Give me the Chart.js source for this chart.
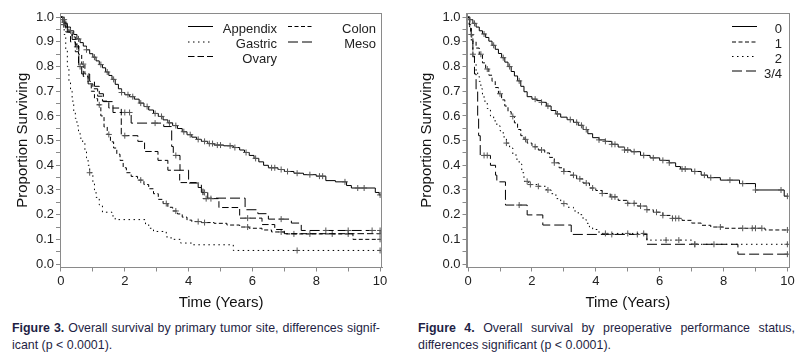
<!DOCTYPE html>
<html><head><meta charset="utf-8">
<script src="https://cdn.jsdelivr.net/npm/chart.js@4.4.1/dist/chart.umd.min.js"></script>
<style>
html,body{margin:0;padding:0;background:#fff;width:805px;height:360px;overflow:hidden;}
#c1{position:absolute;left:0;top:0;}
#c2{position:absolute;left:400px;top:0;}
.cap{position:absolute;font-family:"Liberation Sans",Arial,sans-serif;font-size:12.4px;color:#1f1f45;line-height:17px;white-space:nowrap;}
.just{text-align:justify;text-align-last:justify;}
b{font-weight:bold;}
</style></head>
<body>
<canvas id="c1" width="400" height="318"></canvas>
<canvas id="c2" width="405" height="318"></canvas>
<div class="cap just" style="left:12px;top:320px;width:368px;"><b>Figure 3.</b> Overall survival by primary tumor site, differences signif-</div>
<div class="cap" style="left:12px;top:337px;">icant (p &lt; 0.0001).</div>
<div class="cap just" style="left:418px;top:320px;width:377px;"><b>Figure 4.</b> Overall survival by preoperative performance status,</div>
<div class="cap" style="left:418px;top:337px;">differences significant (p &lt; 0.0001).</div>
<script>
// ---------- Figure 3 data (primary tumor site) ----------
const siteLabels = ['Appendix', 'Gastric', 'Ovary', 'Colon', 'Meso'];
const appendixT = [0.05,0.12,0.2,0.3,0.4,0.5,0.6,0.7,0.8,0.9,1.0,1.1,1.2,1.3,1.4,1.5,1.6,1.7,1.8,1.9,2.0,2.15,2.3,2.45,2.6,2.75,2.9,3.05,3.2,3.35,3.5,3.65,3.8,3.95,4.1,4.25,4.4,4.6,4.8,5.1,5.4,5.6,5.75,5.9,6.05,6.2,6.35,6.5,6.8,7.0,7.3,7.6,8.0,8.3,8.6,8.95,9.1,9.85,9.97];
const appendixS = [0.99,0.975,0.96,0.945,0.93,0.912,0.897,0.883,0.868,0.852,0.838,0.823,0.808,0.795,0.778,0.764,0.748,0.728,0.71,0.695,0.686,0.678,0.668,0.652,0.638,0.624,0.61,0.598,0.584,0.572,0.561,0.549,0.536,0.524,0.514,0.505,0.497,0.488,0.482,0.479,0.472,0.462,0.452,0.44,0.428,0.414,0.4,0.39,0.383,0.375,0.368,0.362,0.356,0.338,0.333,0.318,0.308,0.29,0.28];
const appendixCens = [0.05,0.1,0.3,0.55,0.8,1.05,1.25,1.45,1.65,1.9,2.1,2.25,2.5,2.7,2.95,3.15,3.4,3.6,3.85,4.05,4.3,4.5,4.65,4.75,4.9,5.0,5.3,5.45,5.8,6.1,6.6,6.7,6.9,7.1,7.4,7.8,8.1,8.2,8.9,9.3,9.5,10.0];
const gastricT = [0.05,0.1,0.15,0.2,0.25,0.3,0.35,0.4,0.45,0.5,0.55,0.6,0.68,0.75,0.8,0.85,0.9,1.0,1.05,1.1,1.2,1.3,1.6,1.7,2.65,2.75,2.9,3.3,3.45,3.75,4.1,5.4];
const gastricS = [0.97,0.93,0.87,0.8,0.74,0.7,0.66,0.62,0.59,0.56,0.53,0.51,0.49,0.46,0.43,0.4,0.37,0.33,0.3,0.27,0.24,0.21,0.195,0.18,0.16,0.145,0.132,0.11,0.1,0.085,0.078,0.055];
const gastricCens = [0.08,0.9,7.4,10.0];
const ovaryT = [0.05,0.15,0.3,0.45,0.55,0.7,0.85,1.0,1.15,1.3,1.5,1.89,2.41,2.62,3.04,3.35,3.72,4.3,4.45,4.95,5.6,6.3,6.7,7.0];
const ovaryS = [0.97,0.94,0.9,0.86,0.8,0.76,0.73,0.71,0.68,0.66,0.632,0.52,0.497,0.456,0.42,0.38,0.33,0.31,0.265,0.229,0.186,0.16,0.14,0.123];
const ovaryCens = [0.1,0.6,2.0,4.55,4.7,5.85,10.0];
const colonT = [0.05,0.15,0.25,0.35,0.45,0.55,0.65,0.75,0.85,0.95,1.05,1.15,1.25,1.35,1.45,1.55,1.65,1.75,1.85,1.95,2.05,2.2,2.4,2.6,2.75,2.9,3.05,3.2,3.35,3.5,3.65,3.8,3.95,4.1,4.4,4.8,5.2,5.6,5.9,6.3,6.6,7.0,9.15];
const colonS = [0.98,0.96,0.94,0.92,0.89,0.85,0.81,0.77,0.73,0.7,0.67,0.645,0.6,0.555,0.525,0.495,0.47,0.445,0.42,0.39,0.37,0.355,0.34,0.322,0.305,0.285,0.262,0.245,0.23,0.215,0.203,0.19,0.178,0.172,0.168,0.165,0.158,0.15,0.145,0.138,0.13,0.122,0.1];
const colonCens = [0.1,0.7,1.2,1.5,2.5,3.3,3.6,4.3,4.5,5.85,6.9,7.3,7.8,8.5,9.0,10.0];
const mesoT = [0.1,0.2,0.35,0.5,0.56,0.65,0.9,1.05,1.2,1.33,1.63,2.2,3.22,3.47,3.52,3.73,4.0,4.4,4.6,5.77,6.17,6.5,7.22,7.53];
const mesoS = [0.97,0.94,0.91,0.88,0.8,0.77,0.74,0.72,0.69,0.658,0.614,0.571,0.557,0.476,0.44,0.38,0.328,0.29,0.267,0.22,0.204,0.182,0.166,0.136];
const mesoCens = [0.5,2.0,2.15,2.95,3.6,4.5,6.9,8.3,9.0,9.75,10.0];

// ---------- Figure 4 data (performance status) ----------
const statusLabels = ['0', '1', '2', '3/4'];
const ps0T = [0.05,0.15,0.25,0.35,0.45,0.55,0.65,0.75,0.85,0.95,1.05,1.15,1.25,1.35,1.45,1.55,1.65,1.75,1.85,2.0,2.15,2.3,2.45,2.6,2.75,2.9,3.1,3.3,3.45,3.6,3.75,3.9,4.1,4.3,4.5,4.7,4.9,5.1,5.4,5.7,6.0,6.3,6.5,6.65,7.0,7.3,7.5,7.9,8.5,9.0,9.9];
const ps0S = [0.99,0.975,0.96,0.945,0.932,0.918,0.903,0.886,0.87,0.853,0.836,0.818,0.8,0.78,0.762,0.742,0.72,0.698,0.678,0.668,0.662,0.655,0.64,0.622,0.608,0.595,0.585,0.574,0.562,0.545,0.528,0.512,0.503,0.497,0.485,0.474,0.462,0.455,0.44,0.43,0.42,0.41,0.395,0.385,0.375,0.36,0.35,0.34,0.326,0.3,0.275];
const ps0Cens = [0.05,0.2,0.5,0.8,1.1,1.3,1.6,2.1,2.3,2.5,2.8,3.2,3.4,3.55,3.7,4.1,4.3,4.5,4.6,4.9,5.0,5.2,5.5,5.8,6.1,6.3,6.7,6.8,7.1,7.4,7.6,8.2,8.6,9.0,9.8,10.0];
const ps1T = [0.03,0.08,0.15,0.25,0.35,0.45,0.55,0.65,0.75,0.85,0.95,1.05,1.15,1.25,1.35,1.45,1.55,1.65,1.75,1.85,2.0,2.2,2.4,2.55,2.7,2.85,3.0,3.2,3.4,3.6,3.8,4.0,4.2,4.45,4.7,5.0,5.3,5.6,5.8,6.1,6.4,6.7,7.0,7.3,7.6,8.0,9.3];
const ps1S = [0.97,0.93,0.9,0.875,0.85,0.815,0.79,0.765,0.74,0.715,0.69,0.665,0.64,0.617,0.598,0.572,0.545,0.52,0.505,0.49,0.475,0.462,0.45,0.432,0.41,0.39,0.375,0.36,0.345,0.328,0.308,0.298,0.286,0.272,0.258,0.246,0.235,0.22,0.21,0.197,0.185,0.177,0.166,0.157,0.15,0.145,0.138];
const ps1Cens = [0.1,0.4,0.6,1.0,1.4,1.8,2.1,2.3,2.7,3.0,3.3,3.5,3.7,3.9,4.2,4.5,4.6,5.0,5.2,5.4,5.6,5.9,6.1,6.4,6.5,6.6,7.9,8.6,8.9,9.0,9.2,10.0];
const ps2T = [0.05,0.1,0.15,0.2,0.25,0.3,0.35,0.4,0.45,0.5,0.6,0.7,0.8,0.9,1.0,1.1,1.2,1.3,1.4,1.5,1.6,1.68,1.75,1.9,2.2,2.45,2.6,2.75,2.9,3.1,3.3,3.45,3.6,3.7,3.8,3.9,4.1,5.6,7.0];
const ps2S = [0.95,0.9,0.85,0.81,0.78,0.76,0.74,0.71,0.68,0.66,0.63,0.6,0.58,0.56,0.54,0.515,0.49,0.47,0.445,0.425,0.405,0.37,0.335,0.322,0.315,0.3,0.285,0.265,0.245,0.23,0.215,0.2,0.18,0.165,0.15,0.14,0.124,0.097,0.08];
const ps2Cens = [0.15,1.2,1.85,1.95,2.2,2.5,3.0,4.3,5.0,5.5,6.2,6.6,7.1,10.0];
const ps34T = [0.05,0.1,0.15,0.2,0.25,0.3,0.33,0.38,0.7,0.86,0.9,1.17,1.85,2.34,3.23,5.6,8.45];
const ps34S = [0.96,0.92,0.84,0.77,0.7,0.6,0.52,0.44,0.4,0.36,0.333,0.239,0.199,0.158,0.12,0.08,0.04];
const ps34Cens = [0.5,0.6,1.6,4.5,5.3,7.1,7.7,10.0];

// ---------- axis ticks ----------
const xTickValues = [0,1,2,3,4,5,6,7,8,9,10];
const yTickValues = [0,0.05,0.1,0.15,0.2,0.25,0.3,0.35,0.4,0.45,0.5,0.55,0.6,0.65,0.7,0.75,0.8,0.85,0.9,0.95,1.0];

function kmPoints(times, surv, cens) {
  const pts = [{x: 0, y: 1, c: false}];
  times.forEach((t, i) => pts.push({x: t, y: surv[i], c: false}));
  cens.forEach(ct => {
    let s = 1;
    for (let i = 0; i < times.length; i++) { if (times[i] <= ct) s = surv[i]; }
    pts.push({x: ct, y: s, c: true});
  });
  pts.sort((a, b) => (a.x - b.x) || ((a.c ? 1 : 0) - (b.c ? 1 : 0)));
  return pts;
}

const FONT = '"Liberation Sans", Arial, sans-serif';
const DASH = {solid: [], dotted: [1.5, 3.5], shortDash: [4, 2.5], medDash: [6.5, 3], longDash: [10, 4]};

function ds(label, pts, dash) {
  return {
    label, data: pts, borderColor: '#000', borderWidth: 1, borderDash: dash,
    stepped: 'before', fill: false, tension: 0,
    pointStyle: 'cross', pointRadius: c => (c.raw && c.raw.c) ? 3 : 0,
    pointBorderColor: '#555', pointBorderWidth: 1, pointBackgroundColor: 'rgba(0,0,0,0)',
    pointHoverRadius: 0
  };
}

const framePlugin = {
  id: 'frame',
  afterDraw(chart) {
    const {ctx, chartArea: a} = chart;
    ctx.save();
    ctx.strokeStyle = '#8a8a8a'; ctx.lineWidth = 1; ctx.setLineDash([]);
    ctx.strokeRect(Math.round(a.left) + 0.5, Math.round(a.top) + 0.5, Math.round(a.right - a.left) - 1, Math.round(a.bottom - a.top) - 1);
    ctx.restore();
  }
};

const legendPlugin = {
  id: 'kmLegend',
  afterDraw(chart, args, opts) {
    const ctx = chart.ctx;
    ctx.save();
    (opts.items || []).forEach(it => {
      const d = chart.data.datasets[it.ds];
      ctx.strokeStyle = '#000'; ctx.lineWidth = 1; ctx.setLineDash(d.borderDash || []);
      ctx.beginPath(); ctx.moveTo(it.x1, it.ly + 0.5); ctx.lineTo(it.x2, it.ly + 0.5); ctx.stroke();
      ctx.setLineDash([]);
      ctx.font = '13px ' + FONT; ctx.fillStyle = '#222';
      ctx.textAlign = 'right'; ctx.textBaseline = 'alphabetic';
      ctx.fillText(d.label, it.tx, it.by);
    });
    ctx.restore();
  }
};

function makeOptions(cfg) {
  return {
    responsive: false, animation: false, events: [],
    layout: {padding: cfg.pad},
    plugins: {legend: {display: false}, tooltip: {enabled: false}, kmLegend: {items: cfg.legend}},
    scales: {
      x: {
        type: 'linear', min: cfg.xmin, max: cfg.xmax,
        afterBuildTicks: s => { s.ticks = xTickValues.map(v => ({value: v})); },
        afterFit: s => { s.height = 44; },
        ticks: {autoSkip: false, maxRotation: 0, padding: 2, color: '#222', font: {family: FONT, size: 13},
                callback: v => (v % 2 === 0 ? String(v) : '')},
        grid: {drawOnChartArea: false, drawTicks: true, tickLength: 4, color: '#8a8a8a'},
        border: {display: true, color: '#8a8a8a'},
        title: {display: true, text: 'Time (Years)', color: '#111', font: {family: FONT, size: 15}, padding: {top: 0, bottom: 0}}
      },
      y: {
        type: 'linear', min: -0.014, max: 1.017,
        afterBuildTicks: s => { s.ticks = yTickValues.map(v => ({value: v})); },
        afterFit: s => { s.width = cfg.yw; },
        ticks: {autoSkip: false, padding: 2, color: '#222', font: {family: FONT, size: 13},
                callback: v => (Math.round(v * 100) % 10 === 0 ? v.toFixed(1) : '')},
        grid: {drawOnChartArea: false, drawTicks: true, tickLength: 4, color: '#8a8a8a'},
        border: {display: true, color: '#8a8a8a'},
        title: {display: true, text: 'Proportion Surviving', color: '#111', font: {family: FONT, size: 15}, padding: {top: cfg.ytp, bottom: 0}}
      }
    }
  };
}

new Chart(document.getElementById('c1'), {
  type: 'line',
  data: {datasets: [
    ds(siteLabels[0], kmPoints(appendixT, appendixS, appendixCens), DASH.solid),
    ds(siteLabels[1], kmPoints(gastricT, gastricS, gastricCens), DASH.dotted),
    ds(siteLabels[2], kmPoints(ovaryT, ovaryS, ovaryCens), DASH.medDash),
    ds(siteLabels[3], kmPoints(colonT, colonS, colonCens), DASH.shortDash),
    ds(siteLabels[4], kmPoints(mesoT, mesoS, mesoCens), DASH.longDash)
  ]},
  options: makeOptions({
    pad: {left: 0, top: 13, right: 18, bottom: 6.5}, yw: 60, ytp: 14, xmin: -0.03, xmax: 10.06,
    legend: [
      {ds: 0, x1: 188, x2: 213, ly: 26, tx: 277, by: 33.3},
      {ds: 1, x1: 188, x2: 213, ly: 41.5, tx: 277, by: 48},
      {ds: 2, x1: 188, x2: 213, ly: 56, tx: 277, by: 62.8},
      {ds: 3, x1: 288, x2: 313, ly: 26, tx: 376, by: 33.3},
      {ds: 4, x1: 288, x2: 313, ly: 41.5, tx: 376, by: 48}
    ]
  }),
  plugins: [framePlugin, legendPlugin]
});

new Chart(document.getElementById('c2'), {
  type: 'line',
  data: {datasets: [
    ds(statusLabels[0], kmPoints(ps0T, ps0S, ps0Cens), DASH.solid),
    ds(statusLabels[1], kmPoints(ps1T, ps1S, ps1Cens), DASH.shortDash),
    ds(statusLabels[2], kmPoints(ps2T, ps2S, ps2Cens), DASH.dotted),
    ds(statusLabels[3], kmPoints(ps34T, ps34S, ps34Cens), DASH.longDash)
  ]},
  options: makeOptions({
    pad: {left: 0, top: 13, right: 16, bottom: 6.5}, yw: 66.5, ytp: 18, xmin: -0.05, xmax: 10.05,
    legend: [
      {ds: 0, x1: 332, x2: 357, ly: 26, tx: 382, by: 33.3},
      {ds: 1, x1: 332, x2: 357, ly: 41.5, tx: 382, by: 48},
      {ds: 2, x1: 332, x2: 357, ly: 56, tx: 382, by: 62.8},
      {ds: 3, x1: 332, x2: 357, ly: 70.5, tx: 382, by: 77.5}
    ]
  }),
  plugins: [framePlugin, legendPlugin]
});
</script>
</body></html>
